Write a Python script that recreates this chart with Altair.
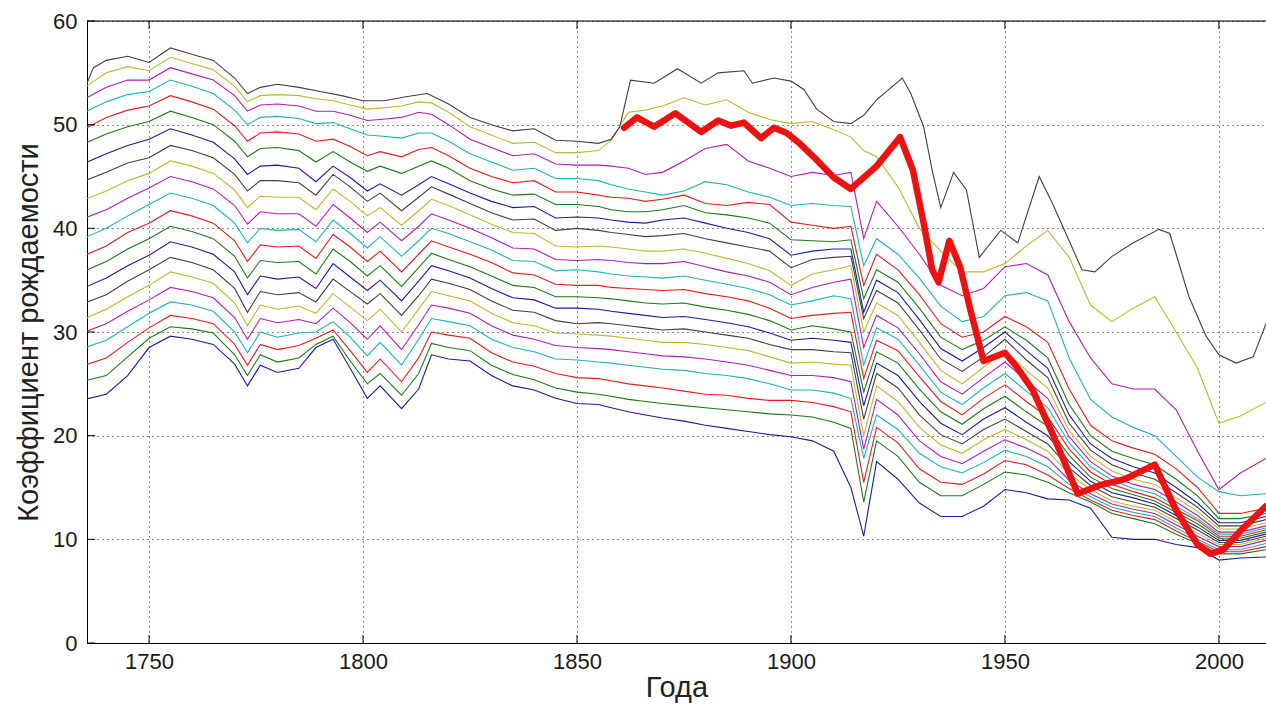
import altair as alt
import pandas as pd

YEARS = [1735, 1740, 1745, 1750, 1755, 1760, 1765, 1770, 1773, 1776,
         1780, 1785, 1789, 1793, 1797, 1801, 1804, 1809, 1813, 1816,
         1820, 1825, 1830, 1835, 1840, 1845, 1850, 1855, 1858, 1862,
         1866, 1870, 1875, 1880, 1885, 1890, 1895, 1900, 1905, 1910,
         1914, 1917, 1920, 1925, 1930, 1935, 1940, 1945, 1950, 1955,
         1960, 1965, 1970, 1975, 1980, 1985, 1990, 1995, 2000, 2005, 2011]

L01 = [23.5, 24.0, 25.8, 28.5, 29.6, 29.3, 28.8, 26.9, 24.8, 26.8,
       26.1, 26.5, 28.5, 29.3, 26.5, 23.6, 24.8, 22.6, 24.5, 27.8,
       27.4, 27.2, 25.8, 24.8, 24.4, 23.6, 23.1, 23.0, 22.7, 22.3,
       22.0, 21.7, 21.4, 21.0, 20.7, 20.4, 20.1, 19.9, 19.5, 18.5,
       15.0, 10.3, 17.5, 15.8, 13.5, 12.2, 12.2, 13.2, 14.8, 14.5,
       13.9, 13.8, 13.0, 10.2, 10.0, 10.0, 9.5, 9.2, 8.0, 8.2, 8.3]
L02 = [25.3, 25.8, 27.6, 29.4, 30.5, 30.3, 29.9, 27.8, 25.8, 27.8,
       27.1, 27.5, 28.8, 29.6, 27.2, 25.0, 26.0, 23.9, 26.0, 28.9,
       28.5, 28.2, 26.8, 25.9, 25.4, 24.6, 24.2, 24.0, 23.8, 23.5,
       23.3, 23.1, 22.9, 22.7, 22.5, 22.3, 22.1, 22.0, 21.8, 21.3,
       20.7, 13.6, 19.5, 18.0, 15.5, 14.2, 14.2, 15.3, 16.5, 16.2,
       15.5, 14.5, 13.6, 12.5, 12.0, 11.5, 10.5, 9.6, 8.6, 8.6, 9.0]
L03 = [26.8, 27.5, 29.0, 30.4, 31.6, 31.3, 30.8, 28.8, 26.8, 28.8,
       28.3, 28.7, 29.4, 30.2, 28.2, 26.1, 27.4, 25.2, 27.5, 30.0,
       29.7, 29.4, 28.0, 27.1, 26.7, 26.0, 25.6, 25.5, 25.3, 25.0,
       24.8, 24.6, 24.3, 24.0, 23.9, 23.6, 23.4, 23.4, 23.2, 22.8,
       22.3, 15.5, 20.8, 19.3, 16.8, 15.5, 15.3, 16.3, 17.6, 17.2,
       16.2, 14.9, 13.8, 12.8, 12.3, 11.9, 10.8, 9.8, 8.8, 8.8, 9.3]
L04 = [28.5, 29.2, 30.5, 31.8, 32.9, 32.6, 32.0, 30.0, 28.0, 30.0,
       29.5, 29.9, 30.0, 31.0, 29.5, 27.7, 29.0, 26.8, 29.3, 31.3,
       31.0, 30.6, 29.3, 28.5, 28.1, 27.4, 27.3, 27.1, 27.0, 26.8,
       26.6, 26.4, 26.3, 26.0, 25.8, 25.5, 25.0, 24.4, 24.4, 24.1,
       23.6, 17.8, 22.0, 20.6, 18.3, 17.0, 16.4, 17.4, 18.6, 18.0,
       17.0, 15.3, 14.1, 13.1, 12.6, 12.2, 11.1, 10.0, 9.0, 9.0, 9.6]
L05 = [30.0, 30.8, 32.0, 33.1, 34.3, 33.9, 33.3, 31.4, 29.3, 31.3,
       30.9, 31.2, 30.8, 32.3, 30.9, 29.3, 30.6, 28.3, 30.7, 32.6,
       32.3, 31.8, 30.6, 29.7, 29.3, 28.7, 28.5, 28.4, 28.3, 28.1,
       27.9, 27.7, 27.6, 27.4, 27.1, 26.8, 26.3, 25.8, 25.8, 25.6,
       25.2, 18.7, 23.5, 22.0, 19.5, 18.0, 17.3, 18.5, 19.6, 18.8,
       17.8, 15.7, 14.4, 13.4, 12.9, 12.5, 11.4, 10.3, 9.3, 9.3, 9.9]
L06 = [31.3, 32.2, 33.4, 34.5, 35.8, 35.3, 34.7, 32.8, 30.6, 32.6,
       32.2, 32.5, 31.8, 33.7, 32.4, 31.1, 32.2, 30.0, 32.2, 33.9,
       33.5, 33.0, 31.8, 30.9, 30.6, 29.9, 29.8, 29.7, 29.6, 29.4,
       29.2, 29.0, 29.0, 28.8, 28.5, 28.2, 27.6, 27.0, 27.1, 26.9,
       26.8, 20.0, 24.8, 23.3, 20.8, 19.1, 18.3, 19.6, 20.6, 19.6,
       18.5, 16.3, 14.8, 13.7, 13.2, 12.8, 11.7, 10.6, 9.5, 9.5, 10.1]
L07 = [32.8, 33.6, 34.9, 36.0, 37.2, 36.7, 36.0, 34.2, 31.9, 33.9,
       33.6, 33.8, 32.9, 35.1, 33.9, 32.7, 33.7, 31.6, 33.5, 35.1,
       34.7, 34.1, 33.0, 32.1, 31.9, 31.1, 30.8, 30.9, 30.8, 30.6,
       30.4, 30.2, 30.3, 30.0, 29.7, 29.4, 28.8, 28.3, 28.3, 28.1,
       28.0, 21.6, 26.0, 24.6, 22.0, 20.1, 19.2, 20.6, 21.6, 20.4,
       19.2, 16.9, 15.2, 14.1, 13.6, 13.1, 12.0, 10.9, 9.7, 9.7, 10.3]
L08 = [34.3, 35.2, 36.4, 37.4, 38.7, 38.2, 37.5, 35.8, 33.6, 35.4,
       35.1, 35.3, 34.2, 36.6, 35.3, 34.0, 35.0, 33.0, 34.9, 36.4,
       35.9, 35.2, 34.2, 33.3, 33.1, 32.3, 32.3, 32.2, 32.0, 31.8,
       31.6, 31.4, 31.5, 31.2, 30.9, 30.5, 29.9, 29.2, 29.4, 29.2,
       29.0, 22.9, 27.0, 25.8, 23.3, 21.2, 20.1, 21.6, 22.7, 21.3,
       20.0, 17.5, 15.6, 14.5, 14.0, 13.4, 12.3, 11.2, 9.9, 9.9, 10.5]
L09 = [35.9, 36.8, 38.0, 39.0, 40.2, 39.7, 39.0, 37.3, 35.2, 36.9,
       36.7, 36.8, 35.6, 38.0, 36.8, 35.4, 36.4, 34.4, 36.2, 37.6,
       37.0, 36.3, 35.4, 34.5, 34.3, 33.4, 33.4, 33.3, 33.2, 33.0,
       32.8, 32.7, 32.8, 32.4, 32.1, 31.7, 31.1, 30.2, 30.6, 30.3,
       30.0, 24.2, 28.1, 27.0, 24.5, 22.3, 21.1, 22.6, 23.8, 22.3,
       20.9, 18.1, 16.0, 14.9, 14.3, 13.7, 12.6, 11.5, 10.1, 10.1, 10.7]
L10 = [37.4, 38.3, 39.6, 40.5, 41.7, 41.2, 40.5, 38.8, 36.8, 38.4,
       38.2, 38.3, 37.1, 39.4, 38.2, 36.8, 37.8, 35.8, 37.5, 38.8,
       38.2, 37.5, 36.7, 35.7, 35.5, 34.6, 34.5, 34.5, 34.3, 34.2,
       34.1, 34.0, 34.1, 33.7, 33.4, 33.0, 32.3, 31.3, 31.6, 31.8,
       31.9, 25.5, 29.2, 28.2, 25.7, 23.3, 22.0, 23.6, 24.9, 23.3,
       21.8, 18.7, 16.5, 15.3, 14.6, 14.0, 12.9, 11.8, 10.3, 10.3, 10.9]
L11 = [39.1, 40.0, 41.2, 42.3, 43.4, 42.9, 42.2, 40.5, 38.6, 40.0,
       39.8, 39.9, 38.7, 40.8, 39.5, 38.1, 39.2, 37.3, 38.8, 40.0,
       39.5, 38.7, 37.9, 36.9, 36.8, 35.9, 36.0, 35.8, 35.6, 35.4,
       35.3, 35.2, 35.4, 35.0, 34.6, 34.2, 33.6, 32.6, 33.0, 33.5,
       33.2, 26.8, 30.4, 29.3, 26.8, 24.2, 23.0, 24.6, 26.0, 24.3,
       22.7, 19.3, 17.0, 15.7, 14.9, 14.4, 13.2, 12.0, 10.5, 10.5, 11.1]
L12 = [41.0, 41.8, 42.9, 43.9, 45.0, 44.5, 43.8, 42.2, 40.4, 41.6,
       41.4, 41.4, 40.2, 42.3, 41.0, 39.6, 40.6, 38.8, 40.2, 41.4,
       40.8, 40.0, 39.1, 38.1, 38.0, 37.0, 36.9, 37.0, 36.9, 36.7,
       36.6, 36.6, 36.8, 36.3, 35.8, 35.4, 34.8, 33.6, 34.3, 34.8,
       35.1, 28.5, 31.6, 30.4, 27.9, 25.2, 24.0, 25.6, 27.1, 25.3,
       23.6, 19.9, 17.5, 16.1, 15.3, 14.8, 13.6, 12.3, 10.7, 10.7, 11.3]
L13 = [42.8, 43.6, 44.6, 45.3, 46.5, 46.0, 45.3, 43.7, 42.0, 43.1,
       43.0, 43.0, 41.8, 43.8, 42.6, 41.2, 42.0, 40.3, 41.7, 42.8,
       42.2, 41.3, 40.4, 39.6, 39.5, 38.3, 38.2, 38.3, 38.2, 38.0,
       37.8, 37.8, 38.0, 37.6, 37.1, 36.6, 35.9, 34.5, 35.6, 36.0,
       36.4, 30.0, 32.8, 31.6, 29.0, 26.3, 25.0, 26.6, 28.2, 26.3,
       24.6, 20.5, 18.0, 16.6, 15.8, 15.3, 14.0, 12.7, 11.0, 11.0, 11.6]
L14 = [44.6, 45.4, 46.3, 46.8, 48.0, 47.5, 46.8, 45.2, 43.6, 44.6,
       44.6, 44.4, 43.2, 45.2, 44.0, 42.6, 43.4, 41.7, 43.0, 44.0,
       43.3, 42.4, 41.5, 40.8, 40.9, 39.8, 40.0, 39.8, 39.6, 39.4,
       39.2, 39.3, 39.5, 39.0, 38.6, 38.2, 37.8, 36.2, 37.0, 37.2,
       37.3, 31.3, 34.0, 32.8, 30.2, 27.4, 26.2, 27.6, 29.3, 27.3,
       25.6, 21.2, 18.6, 17.2, 16.4, 15.8, 14.5, 13.1, 11.3, 11.3, 11.9]
L15 = [46.3, 47.2, 48.0, 48.6, 49.6, 49.0, 48.3, 46.7, 45.2, 46.0,
       46.1, 45.8, 44.5, 46.0, 44.9, 43.6, 44.3, 43.2, 44.2, 45.0,
       44.3, 43.4, 42.6, 42.0, 42.1, 41.0, 41.1, 41.0, 40.8, 40.6,
       40.5, 40.8, 41.0, 40.5, 40.0, 39.6, 39.0, 37.4, 37.8, 38.0,
       38.0, 31.9, 35.0, 33.8, 31.2, 28.4, 27.2, 28.5, 30.0, 28.2,
       26.5, 22.0, 19.2, 17.8, 17.0, 16.4, 15.0, 13.5, 11.6, 11.6, 12.2]
L16 = [48.2, 49.1, 49.8, 50.3, 51.3, 50.7, 50.0, 48.4, 46.9, 47.7,
       47.8, 47.5, 46.4, 47.4, 46.4, 45.5, 46.0, 45.3, 46.0, 46.5,
       45.8, 44.6, 43.8, 43.2, 43.3, 42.3, 42.3, 42.1, 41.8, 41.6,
       41.6, 41.8, 42.2, 41.5, 41.3, 41.0, 40.5, 38.9, 38.8, 38.7,
       38.9, 33.2, 36.0, 34.8, 32.3, 29.5, 28.3, 29.2, 30.5, 29.2,
       27.5, 23.0, 20.0, 18.5, 17.8, 17.2, 15.8, 14.2, 12.0, 12.0, 12.5]
L17 = [49.6, 50.7, 51.4, 51.8, 52.8, 52.2, 51.5, 49.9, 48.4, 49.2,
       49.3, 49.1, 48.4, 48.6, 47.9, 47.0, 47.4, 46.9, 47.6, 47.8,
       47.0, 45.8, 45.0, 44.4, 44.6, 43.5, 43.5, 43.2, 43.0, 42.9,
       42.6, 42.8, 43.2, 42.4, 42.2, 42.5, 42.3, 40.6, 40.3, 40.0,
       40.2, 34.5, 37.5, 36.0, 33.6, 30.8, 29.5, 30.0, 31.5, 30.5,
       29.0, 24.5, 21.0, 19.5, 18.8, 18.2, 16.8, 15.0, 12.5, 12.5, 13.0]
L18 = [51.2, 52.2, 52.9, 53.2, 54.3, 53.7, 53.0, 51.4, 50.0, 50.7,
       50.8, 50.6, 50.1, 50.2, 49.6, 49.0, 48.9, 48.7, 49.2, 49.2,
       48.4, 47.2, 46.4, 45.6, 45.8, 44.8, 44.8, 44.6, 44.2, 43.8,
       43.5, 43.2, 43.6, 44.5, 44.2, 43.5, 43.0, 42.2, 42.4, 42.2,
       42.1, 36.4, 39.0, 37.5, 35.2, 32.5, 31.0, 31.5, 33.5, 33.8,
       33.0, 27.5, 23.5, 21.8, 20.8, 20.0, 18.0, 16.0, 14.6, 14.2, 14.4]
L19 = [52.5, 53.6, 54.3, 54.3, 55.5, 54.9, 54.3, 52.8, 51.3, 51.9,
       52.0, 51.8, 51.3, 51.3, 50.9, 50.4, 50.5, 50.7, 51.2, 51.0,
       50.0, 48.6, 47.8, 47.0, 47.2, 46.2, 46.1, 46.1, 46.0, 45.8,
       45.2, 45.4, 46.5, 47.7, 48.1, 46.5, 45.8, 45.0, 45.4, 45.1,
       45.4, 39.0, 42.6, 40.2, 37.5, 34.5, 33.5, 34.2, 36.3, 36.6,
       35.5, 31.0, 27.5, 25.0, 24.5, 24.5, 22.5, 18.5, 14.8, 16.4, 17.8]
L20 = [53.6, 55.0, 55.6, 55.2, 56.5, 55.9, 55.3, 53.7, 52.2, 52.8,
       52.9, 52.8, 52.5, 52.3, 51.9, 51.5, 51.6, 51.8, 52.2, 52.1,
       51.2, 49.8, 49.0, 48.2, 48.3, 47.3, 47.3, 47.5, 48.5, 51.2,
       51.4, 51.8, 52.6, 51.9, 52.4, 51.2, 50.5, 50.1, 50.3, 49.5,
       48.8, 47.5, 46.9, 44.0, 40.0, 37.8, 35.8, 35.8, 36.6, 38.3,
       39.8, 37.2, 32.6, 31.0, 32.3, 33.4, 30.0, 26.5, 21.2, 21.9, 23.2]

TOP_YEARS = [1735, 1737, 1740, 1745, 1750, 1755, 1760, 1765, 1770, 1773,
             1776, 1780, 1785, 1790, 1795, 1800, 1805, 1810, 1815, 1820,
             1825, 1830, 1835, 1840, 1845, 1850, 1855, 1858, 1860, 1862.5,
             1868, 1873.5, 1879, 1883, 1889, 1891, 1896, 1900, 1903, 1906,
             1910, 1914, 1917, 1920, 1926, 1928, 1931, 1933, 1935, 1938,
             1941, 1944, 1949, 1953, 1958, 1961, 1965, 1968, 1971, 1975,
             1980, 1986, 1988.5, 1990, 1993, 1997, 2000, 2004, 2008, 2011]
TOP_VALUES = [53.5, 55.5, 56.2, 56.6, 56.0, 57.4, 56.8, 56.2, 54.5, 53.0,
              53.6, 53.9, 53.6, 53.2, 52.8, 52.3, 52.3, 52.7, 53.0, 52.0,
              50.7, 50.0, 49.4, 49.6, 48.5, 48.4, 48.2, 48.6, 49.8, 54.3,
              54.0, 55.4, 54.0, 55.0, 55.2, 54.0, 54.5, 54.2, 53.4, 51.5,
              50.3, 50.1, 50.9, 52.4, 54.5, 53.0, 49.8, 45.6, 42.0, 45.4,
              43.7, 37.2, 39.8, 38.6, 45.0, 42.5, 38.8, 36.0, 35.8, 37.3,
              38.6, 39.9, 39.5, 37.5, 33.4, 29.6, 27.8, 27.0, 27.6, 30.8]

RED_YEARS = [1861, 1864, 1868, 1873, 1879, 1883, 1886, 1889, 1893, 1896,
             1899, 1902, 1906, 1910, 1914, 1920, 1925.5, 1928.5, 1931, 1933,
             1934.5, 1937, 1939.5, 1942, 1945, 1950, 1953, 1956.5, 1961, 1967,
             1972, 1978, 1985, 1990, 1995, 1998, 2001, 2005, 2011]
RED_VALUES = [49.7, 50.7, 49.8, 51.1, 49.3, 50.4, 49.9, 50.2, 48.7, 49.7,
              49.2, 48.2, 46.6, 44.9, 43.8, 46.0, 48.8, 45.6, 40.5, 36.0,
              34.8, 38.8, 36.3, 32.0, 27.2, 28.0, 26.5, 24.4, 20.3, 14.4,
              15.2, 15.8, 17.2, 12.8, 9.5, 8.6, 9.0, 10.8, 13.2]

X_TICKS = [1750, 1800, 1850, 1900, 1950, 2000]
Y_TICKS = [0, 10, 20, 30, 40, 50, 60]
CYCLE = ["#1c1ca0", "#1a7a1a", "#e81c1c", "#1cb4b4", "#b41cb4", "#baba2a", "#404040"]

LINES = [L01, L02, L03, L04, L05, L06, L07, L08, L09, L10,
         L11, L12, L13, L14, L15, L16, L17, L18, L19, L20]
assert all(len(v) == len(YEARS) for v in LINES), [len(v) for v in LINES]
assert len(TOP_YEARS) == len(TOP_VALUES)
assert len(RED_YEARS) == len(RED_VALUES)

rows = []
for i, vals in enumerate(LINES):
    for yr, v in zip(YEARS, vals):
        rows.append({"year": yr, "rate": v, "series": i})
for yr, v in zip(TOP_YEARS, TOP_VALUES):
    rows.append({"year": yr, "rate": v, "series": 20})
df = pd.DataFrame(rows)
red_df = pd.DataFrame({"year": RED_YEARS, "rate": RED_VALUES})

W, H = 1179, 622
FONT = "Liberation Sans"
xscale = alt.Scale(domain=[1735.5, 2011], nice=False, zero=False)
yscale = alt.Scale(domain=[0, 60], nice=False, zero=False)
series_colors = [CYCLE[i % 7] for i in range(21)]

x_axis = alt.Axis(values=X_TICKS, format="d", tickSize=0, labelPadding=8,
                  labelFontSize=22, labelFont=FONT, labelColor="#1a1a1a",
                  labelFlush=False, domainColor="black", domainWidth=1,
                  grid=True, gridColor="black", gridDash=[1, 4], gridOpacity=0.9,
                  titleFontSize=29, titleFont=FONT, titleFontWeight="normal",
                  titleColor="#222", titlePadding=1)
y_axis = alt.Axis(values=Y_TICKS, tickSize=0, labelPadding=10,
                  labelFontSize=22, labelFont=FONT, labelColor="#1a1a1a",
                  labelFlush=False, domainColor="black", domainWidth=1,
                  grid=True, gridColor="black", gridDash=[1, 4], gridOpacity=0.9,
                  titleFontSize=29, titleFont=FONT, titleFontWeight="normal",
                  titleColor="#222", titlePadding=9)

lines = alt.Chart(df).mark_line(strokeWidth=1.1, clip=True).encode(
    x=alt.X("year:Q", scale=xscale, axis=x_axis, title="Года"),
    y=alt.Y("rate:Q", scale=yscale, axis=y_axis, title="Коэффициент рождаемости"),
    color=alt.Color("series:N", scale=alt.Scale(domain=list(range(21)), range=series_colors), legend=None),
)

red = alt.Chart(red_df).mark_line(color="#ee1111", strokeWidth=6.5, strokeJoin="round",
                                  strokeCap="round", clip=True).encode(
    x=alt.X("year:Q", scale=xscale),
    y=alt.Y("rate:Q", scale=yscale),
)

xt = pd.DataFrame({"year": X_TICKS})
yt = pd.DataFrame({"rate": Y_TICKS})
xticks_bottom = alt.Chart(xt).mark_rule(color="black").encode(
    x=alt.X("year:Q", scale=xscale), y=alt.value(H), y2=alt.value(H - 8))
xticks_top = alt.Chart(xt).mark_rule(color="black").encode(
    x=alt.X("year:Q", scale=xscale), y=alt.value(0), y2=alt.value(8))
yticks = alt.Chart(yt).mark_rule(color="black").encode(
    y=alt.Y("rate:Q", scale=yscale), x=alt.value(0), x2=alt.value(8))
top_border = alt.Chart(pd.DataFrame({"k": [0]})).mark_rule(color="black").encode(
    x=alt.value(0), x2=alt.value(W), y=alt.value(0))

chart = alt.layer(lines, red, xticks_bottom, xticks_top, yticks, top_border).properties(
    width=W, height=H,
    autosize=alt.AutoSizeParams(type="none"),
    padding={"left": 87, "top": 21, "right": 0, "bottom": 66},
).configure_view(stroke=None).configure(background="white")

chart.save("out.html", embed_options={"renderer": "svg", "actions": False})
